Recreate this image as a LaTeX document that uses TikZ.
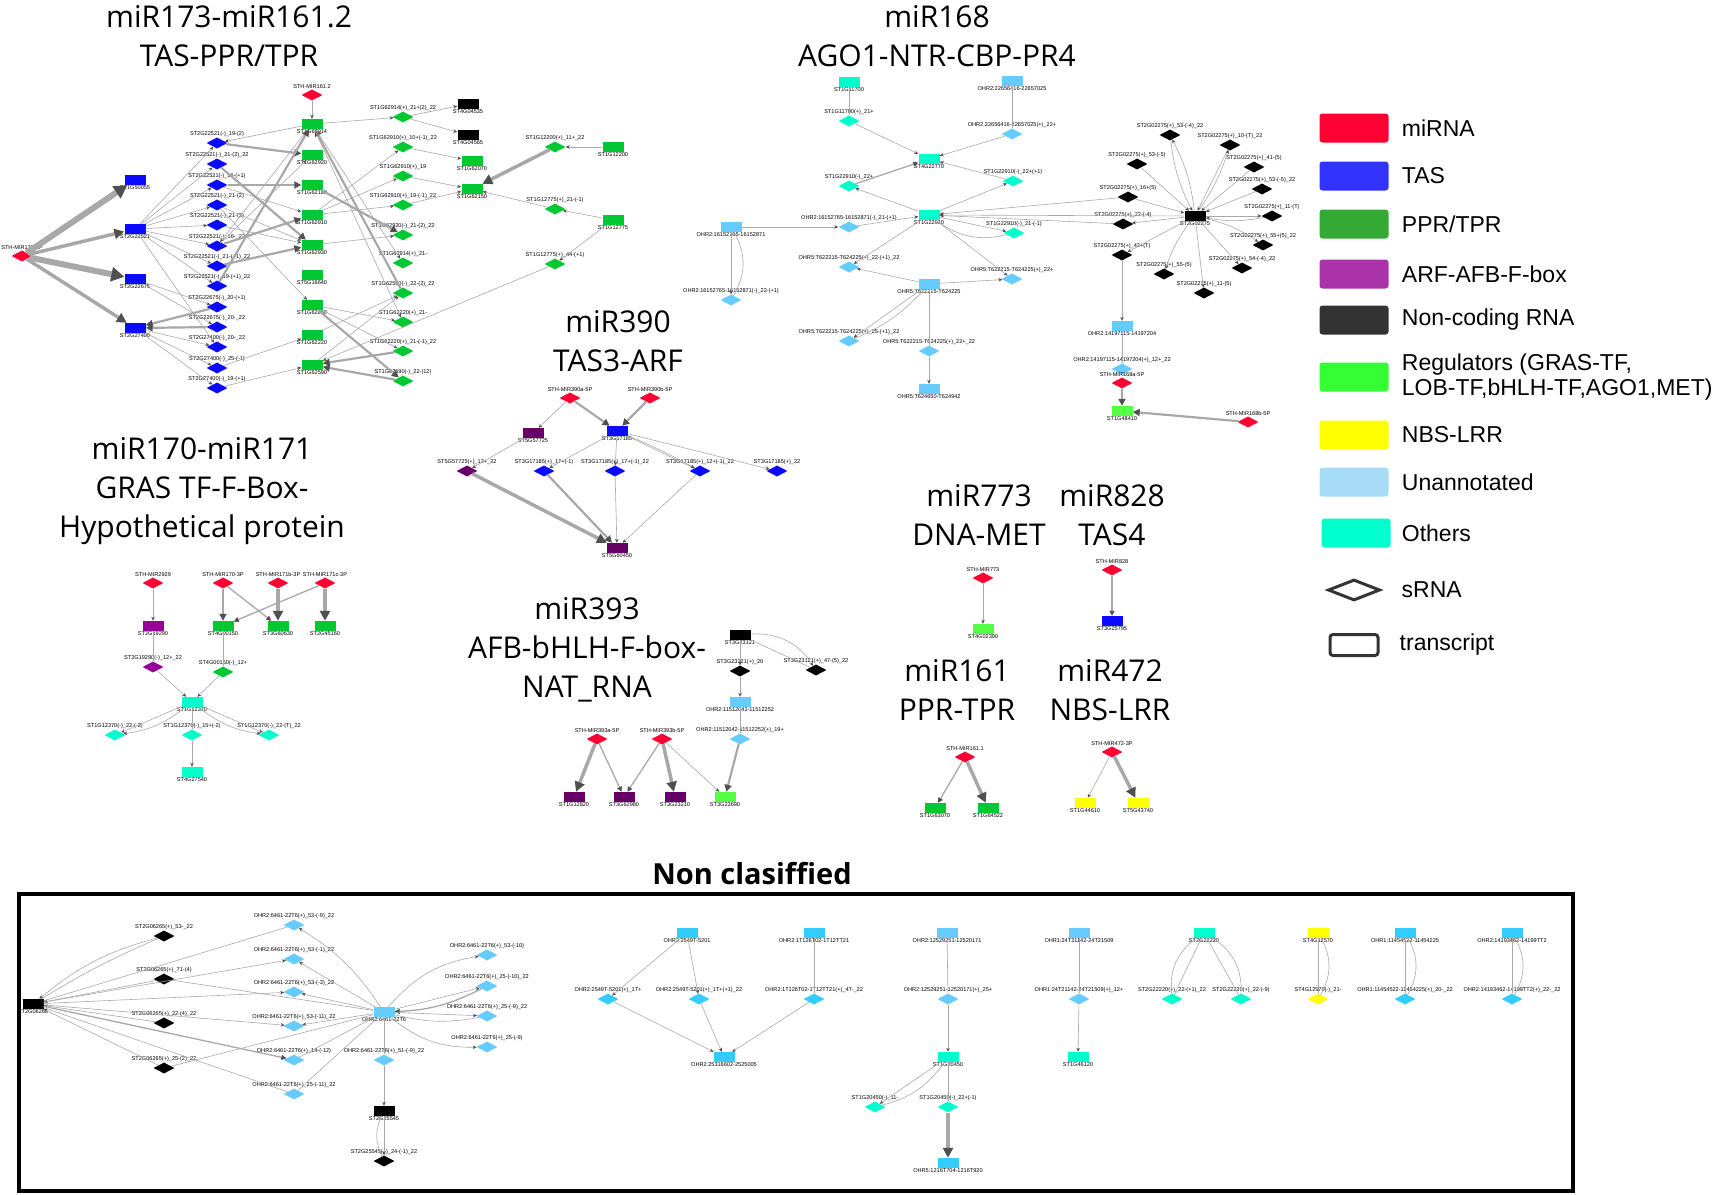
\documentclass[tikz,border=0pt]{standalone}
\usepackage{fontspec}
\setmainfont{Liberation Sans}
\newfontfamily\ttlfont{Open Sans}
\usetikzlibrary{shapes.geometric,arrows.meta,positioning}
\definecolor{cmir}{HTML}{FF0033}
\definecolor{ctas}{HTML}{0A0AFF}
\definecolor{cppr}{HTML}{00C832}
\definecolor{carf}{HTML}{990099}
\definecolor{carfd}{HTML}{660066}
\definecolor{cnc}{HTML}{000000}
\definecolor{creg}{HTML}{55FF44}
\definecolor{cnbs}{HTML}{FFFF00}
\definecolor{cuna}{HTML}{66CCFF}
\definecolor{cunb}{HTML}{33CCFF}
\definecolor{coth}{HTML}{00FFCC}
\definecolor{lmir}{HTML}{FF0033}
\definecolor{ltas}{HTML}{3333FF}
\definecolor{lppr}{HTML}{33AA33}
\definecolor{larf}{HTML}{AA33AA}
\definecolor{lnc}{HTML}{333333}
\definecolor{lreg}{HTML}{33FF33}
\definecolor{lnbs}{HTML}{FFFF00}
\definecolor{luna}{HTML}{A6DCF5}
\definecolor{loth}{HTML}{00FFCC}
\definecolor{egray}{HTML}{A8A8A8}
\definecolor{tgray}{HTML}{505050}
\tikzstyle{tr} = [rectangle, minimum width=21pt, minimum height=10pt, inner sep=0pt]
\tikzstyle{sr} = [diamond, minimum width=21pt, minimum height=11pt, inner sep=0pt]
\tikzstyle{lbl} = [font=\fontsize{5.6}{5.6}\selectfont, inner sep=0.4pt]
\tikzstyle{ttl} = [font=\ttlfont\fontsize{30}{39}\selectfont, align=center, inner sep=0pt]
\tikzstyle{ln} = [draw=egray, line width=0.6pt]
\tikzstyle{lk} = [ln, -{Stealth[length=4pt,width=3.5pt,color=tgray]}]
\tikzstyle{mt} = [draw=egray, line width=1.3pt, -{Triangle[length=5pt,width=5pt,color=tgray]}]
\tikzstyle{md} = [draw=egray, line width=2.2pt, -{Triangle[length=7pt,width=7pt,color=tgray]}]
\tikzstyle{hv} = [draw=egray, line width=3.5pt, -{Triangle[length=10pt,width=10pt,color=tgray]}]
\tikzstyle{hvv} = [draw=egray, line width=6pt, -{Triangle[length=13pt,width=14pt,color=tgray]}]
\tikzstyle{sw} = [rectangle, rounded corners=3pt, minimum width=69pt, minimum height=29pt]
\tikzstyle{lgt} = [font=\fontsize{23}{25}\selectfont, align=left, inner sep=0pt]

\begin{document}
\begin{tikzpicture}[x=1pt, y=-1pt, label distance=0pt]
  \useasboundingbox (0,0) rectangle (1713,1194);

  \node (ttla) [ttl] at (229,36) {miR173-miR161.2\\TAS-PPR/TPR};
  \node (ttlb) [ttl] at (937,36) {miR168\\AGO1-NTR-CBP-PR4};
  \node (ttlc) [ttl] at (618,341) {miR390\\TAS3-ARF};
  \node (ttld) [ttl] at (202,491) {miR170-miR171\\GRAS TF-F-Box-\\Hypothetical protein};
  \node (ttle) [ttl] at (587,650) {miR393\\AFB-bHLH-F-box-\\NAT\_RNA};
  \node (ttlf) [ttl] at (979,515) {miR773\\DNA-MET};
  \node (ttlg) [ttl] at (1112,515) {miR828\\TAS4};
  \node (ttlh) [ttl] at (957,690) {miR161\\PPR-TPR};
  \node (ttli) [ttl] at (1110,690) {miR472\\NBS-LRR};
  \node (ttlj) [ttl, font=\ttlfont\bfseries\fontsize{29}{35}\selectfont] at (752,874) {Non clasiffied};

  \node (m173) [sr, fill=cmir, label={[lbl]above:STH-MIR173-5P}] at (22,256) {};
  \node (m1612) [sr, fill=cmir, label={[lbl]above:STH-MIR161.2}] at (312,95) {};
  \node (t1) [tr, fill=ctas, label={[lbl]below:ST1G50055}] at (135,180) {};
  \node (t2) [tr, fill=ctas, label={[lbl]below:ST2G22521}] at (135,229) {};
  \node (t3) [tr, fill=ctas, label={[lbl]below:ST2G22675}] at (135,279) {};
  \node (t4) [tr, fill=ctas, label={[lbl]below:ST2G27400}] at (135,328) {};
  \node (b1) [sr, fill=ctas, label={[lbl]above:ST2G22521(-)\_19-(2)}] at (217,143) {};
  \node (b2) [sr, fill=ctas, label={[lbl]above:ST2G22521(-)\_21-(2)\_22}] at (217,164) {};
  \node (b3) [sr, fill=ctas, label={[lbl]above:ST2G22521(-)\_16-(+1)}] at (217,185) {};
  \node (b4) [sr, fill=ctas, label={[lbl]above:ST2G22521(-)\_21-(2)}] at (217,205) {};
  \node (b5) [sr, fill=ctas, label={[lbl]above:ST2G22521(-)\_21-(3)}] at (217,225) {};
  \node (b6) [sr, fill=ctas, label={[lbl]above:ST2G22521(-)\_16-\_22}] at (217,246) {};
  \node (b7) [sr, fill=ctas, label={[lbl]above:ST2G22521(-)\_21-(+1)\_22}] at (217,266) {};
  \node (b8) [sr, fill=ctas, label={[lbl]above:ST2G22521(-)\_19-(+1)\_22}] at (217,286) {};
  \node (b9) [sr, fill=ctas, label={[lbl]above:ST2G22675(-)\_20-(+1)}] at (217,307) {};
  \node (b10) [sr, fill=ctas, label={[lbl]above:ST2G22675(-)\_20-\_22}] at (217,327) {};
  \node (b11) [sr, fill=ctas, label={[lbl]above:ST2G27400(-)\_20-\_22}] at (217,347) {};
  \node (b12) [sr, fill=ctas, label={[lbl]above:ST2G27400(-)\_25-(-1)}] at (217,368) {};
  \node (b13) [sr, fill=ctas, label={[lbl]above:ST2G27400(-)\_19-(+1)}] at (217,388) {};
  \node (g1) [tr, fill=cppr, label={[lbl]below:ST1G62914}] at (312,124) {};
  \node (g2) [tr, fill=cppr, label={[lbl]below:ST1G62920}] at (312,155) {};
  \node (g3) [tr, fill=cppr, label={[lbl]below:ST1G62180}] at (312,185) {};
  \node (g4) [tr, fill=cppr, label={[lbl]below:ST1G62910}] at (312,215) {};
  \node (g5) [tr, fill=cppr, label={[lbl]below:ST1G62930}] at (312,245) {};
  \node (g6) [tr, fill=cppr, label={[lbl]below:ST5G16640}] at (312,275) {};
  \node (g7) [tr, fill=cppr, label={[lbl]below:ST1G62860}] at (312,305) {};
  \node (g8) [tr, fill=cppr, label={[lbl]below:ST1G62220}] at (312,335) {};
  \node (g9) [tr, fill=cppr, label={[lbl]below:ST1G62590}] at (312,365) {};
  \node (h1) [sr, fill=cppr, label={[lbl]above:ST1G62914(+)\_21+(2)\_22}] at (403,117) {};
  \node (h2) [sr, fill=cppr, label={[lbl]above:ST1G62910(+)\_10+(-1)\_22}] at (403,147) {};
  \node (h3) [sr, fill=cppr, label={[lbl]above:ST1G62910(+)\_19}] at (403,176) {};
  \node (h4) [sr, fill=cppr, label={[lbl]above:ST1G62910(+)\_19-(-1)\_22}] at (403,205) {};
  \node (h5) [sr, fill=cppr, label={[lbl]above:ST1G62920(-)\_21-(2)\_22}] at (403,235) {};
  \node (h6) [sr, fill=cppr, label={[lbl]above:ST1G62914(+)\_21-}] at (403,263) {};
  \node (h7) [sr, fill=cppr, label={[lbl]above:ST1G62590(-)\_22-(2)\_22}] at (403,293) {};
  \node (h8) [sr, fill=cppr, label={[lbl]above:ST1G62220(+)\_21-}] at (403,322) {};
  \node (h9) [sr, fill=cppr, label={[lbl]above:ST1G62220(+)\_21-(-1)\_22}] at (403,351) {};
  \node (h10) [sr, fill=cppr, label={[lbl]above:ST1G62590(-)\_22-(12)}] at (403,381) {};
  \node (k1) [tr, fill=cnc, label={[lbl]below:ST4G04535}] at (468,104) {};
  \node (k2) [tr, fill=cnc, label={[lbl]below:ST4G04565}] at (468,135) {};
  \node (g10) [tr, fill=cppr, label={[lbl]below:ST1G62070}] at (472,161) {};
  \node (g11) [tr, fill=cppr, label={[lbl]below:ST1G62150}] at (472,189) {};
  \node (h11) [sr, fill=cppr, label={[lbl]above:ST1G12200(+)\_11+\_22}] at (555,147) {};
  \node (g12) [tr, fill=cppr, label={[lbl]below:ST1G12200}] at (613,147) {};
  \node (h12) [sr, fill=cppr, label={[lbl]above:ST1G12775(+)\_21-(-1)}] at (555,209) {};
  \node (g13) [tr, fill=cppr, label={[lbl]below:ST1G12775}] at (613,220) {};
  \node (h13) [sr, fill=cppr, label={[lbl]above:ST1G12775(+)\_44-(+1)}] at (555,264) {};

  \draw[hvv] (m173) -- (t1);
  \draw[hv] (m173) -- (t2);
  \draw[hvv] (m173) -- (t3);
  \draw[hv] (m173) -- (t4);
  \draw[lk] (t2) -- (b1);
  \draw[lk] (t2) -- (b2);
  \draw[lk] (t2) -- (b3);
  \draw[lk] (t2) -- (b4);
  \draw[lk] (t2) -- (b5);
  \draw[lk] (t2) -- (b6);
  \draw[lk] (t2) -- (b7);
  \draw[lk] (t2) -- (b8);
  \draw[lk] (t2) -- (b11);
  \draw[lk] (t3) -- (b9);
  \draw[lk] (t3) -- (b10);
  \draw[md] (b9) -- (t4);
  \draw[md] (b10) -- (t4);
  \draw[lk] (t4) -- (b11);
  \draw[lk] (t4) -- (b12);
  \draw[lk] (t4) -- (b13);
  \draw[md] (b1) -- (g2);
  \draw[md] (b3) -- (g3);
  \draw[md] (b2) -- (g5);
  \draw[lk] (b4) -- (g5);
  \draw[lk] (b5) -- (g5);
  \draw[md] (b7) -- (g5);
  \draw[md] (b6) -- (g4);
  \draw[lk] (b6) -- (g2);
  \draw[lk] (g1) -- (b1);
  \draw[lk] (g1) -- (b6);
  \draw[md] (b8) -- (g1);
  \draw[lk] (b4) -- (g7);
  \draw[lk] (b3) -- (g4);
  \draw[lk] (b12) -- (g8);
  \draw[lk] (b13) -- (g9);
  \draw[lk] (m1612) -- (g1);
  \draw[lk] (g1) -- (h1);
  \draw[lk] (h1) -- (k1);
  \draw[lk] (h1) -- (k2);
  \draw[md] (h7) -- (g1);
  \draw[lk] (g1) -- (h6);
  \draw[lk] (g1) -- (h8);
  \draw[md] (g3) -- (h5);
  \draw[lk] (g4) -- (h2);
  \draw[lk] (g4) -- (h3);
  \draw[lk] (g4) -- (h4);
  \draw[lk] (g5) -- (h5);
  \draw[lk] (h2) -- (g10);
  \draw[lk] (h3) -- (g11);
  \draw[lk] (h4) -- (g11);
  \draw[lk] (g7) -- (h8);
  \draw[lk] (g7) -- (h9);
  \draw[md] (g7) -- (h10);
  \draw[md] (h9) -- (g9);
  \draw[md] (h10) -- (g9);
  \draw[lk] (g8) -- (h7);
  \draw[lk] (g9) -- (h7);
  \draw[hv] (h11) -- (g11);
  \draw[lk] (g12) -- (h11);
  \draw[lk] (g13) -- (h12);
  \draw[lk] (h12) -- (g11);
  \draw[lk] (g13) -- (h13);
  \draw[lk] (h13) -- (g9);

  \node (a1) [tr, fill=coth, label={[lbl]below:ST1G11700}] at (849,82) {};
  \node (a2) [tr, fill=cuna, label={[lbl]below:{OHR2:22656416-22657025}}] at (1012,81) {};
  \node (d1) [sr, fill=coth, label={[lbl]above:ST1G11700(+)\_21+}] at (849,121) {};
  \node (d2) [sr, fill=cuna, label={[lbl]above:{OHR2:22656416-22657025(+)\_22+}}] at (1012,134) {};
  \node (a3) [tr, fill=coth, label={[lbl]below:ST4G22770}] at (929,159) {};
  \node (d3) [sr, fill=coth, label={[lbl]above:ST1G22910(-)\_22+}] at (849,186) {};
  \node (d4) [sr, fill=coth, label={[lbl]above:ST1G22910(-)\_22+(+1)}] at (1013,181) {};
  \node (a4) [tr, fill=coth, label={[lbl]below:ST1G22910}] at (929,215) {};
  \node (a5) [tr, fill=cuna, label={[lbl]below:{OHR2:16152765-16152871}}] at (731,227) {};
  \node (d5) [sr, fill=cuna, label={[lbl]above:{OHR2:16152765-16152871(-)\_21-(+1)}}] at (849,227) {};
  \node (d6) [sr, fill=coth, label={[lbl]above:ST1G22910(-)\_21-(-1)}] at (1014,233) {};
  \node (d7) [sr, fill=cuna, label={[lbl]above:{OHR5:T622215-T624225(+)\_22-(+1)\_22}}] at (849,267) {};
  \node (d8) [sr, fill=cuna, label={[lbl]above:{OHR5:T622215-T624225(+)\_22+}}] at (1012,279) {};
  \node (a6) [tr, fill=cuna, label={[lbl]below:{OHR5:T622215-T624225}}] at (929,284) {};
  \node (d9) [sr, fill=cuna, label={[lbl]above:{OHR2:16152765-16152871(-)\_22-(+1)}}] at (731,300) {};
  \node (d10) [sr, fill=cuna, label={[lbl]above:{OHR5:T622215-T624225(+)\_25-(+1)\_22}}] at (849,341) {};
  \node (d11) [sr, fill=cuna, label={[lbl]above:{OHR5:T622215-T624225(+)\_22+\_22}}] at (929,351) {};
  \node (a7) [tr, fill=cuna, label={[lbl]below:{OHR5:T624650-T624942}}] at (929,389) {};

  \node (hub) [tr, fill=cnc, label={[lbl]below:ST2G02275}] at (1195,216) {};
  \node (q1) [sr, fill=cnc, label={[lbl]above:ST2G02275(+)\_53-(-4)\_22}] at (1170,135) {};
  \node (q2) [sr, fill=cnc, label={[lbl]above:ST2G02275(+)\_10-(T)\_22}] at (1230,145) {};
  \node (q3) [sr, fill=cnc, label={[lbl]above:ST2G02275(+)\_53-(-5)}] at (1137,164) {};
  \node (q4) [sr, fill=cnc, label={[lbl]above:ST2G02275(+)\_41-(5)}] at (1254,167) {};
  \node (q5) [sr, fill=cnc, label={[lbl]above:ST2G02275(+)\_53-(-5)\_22}] at (1262,189) {};
  \node (q6) [sr, fill=cnc, label={[lbl]above:ST2G02275(+)\_16+(5)}] at (1128,197) {};
  \node (q7) [sr, fill=cnc, label={[lbl]above:ST2G02275(+)\_11-(T)}] at (1272,216) {};
  \node (q8) [sr, fill=cnc, label={[lbl]above:ST2G02275(+)\_22-(-4)}] at (1123,224) {};
  \node (q9) [sr, fill=cnc, label={[lbl]above:ST2G02275(+)\_55+(5)\_22}] at (1263,245) {};
  \node (q10) [sr, fill=cnc, label={[lbl]above:ST2G02275(+)\_42+(T)}] at (1122,255) {};
  \node (q11) [sr, fill=cnc, label={[lbl]above:ST2G02275(+)\_54-(-4)\_22}] at (1242,268) {};
  \node (q12) [sr, fill=cnc, label={[lbl]above:ST2G02275(+)\_55-(5)}] at (1164,274) {};
  \node (q13) [sr, fill=cnc, label={[lbl]above:ST2G02275(+)\_11-(5)}] at (1204,293) {};
  \node (u1) [tr, fill=cuna, label={[lbl]below:{OHR2:14197115-14197204}}] at (1122,326) {};
  \node (u2) [sr, fill=cuna, label={[lbl]above:{OHR2:14197115-14197204(+)\_12+\_22}}] at (1122,369) {};
  \node (m168a) [sr, fill=cmir, label={[lbl]above:STH-MIR168a-5P}] at (1122,383) {};
  \node (n1) [tr, fill=creg, label={[lbl]below:ST1G48410}] at (1122,411) {};
  \node (m168b) [sr, fill=cmir, label={[lbl]above:STH-MIR168b-5P}] at (1248,422) {};

  \draw[ln] (a1) -- (d1);
  \draw[lk] (d1) -- (a3);
  \draw[ln] (a2) -- (d2);
  \draw[lk] (d2) -- (a3);
  \draw[mt] (d3) -- (a3);
  \draw[lk] (d4) -- (a3);
  \draw[lk] (a4) -- (d3);
  \draw[lk] (a4) -- (d4);
  \draw[lk] (a5) -- (d5);
  \draw[lk] (d5) -- (a4);
  \draw[lk] (a4) -- (d6);
  \draw[ln] (a4) to[bend right=25] (d6);
  \draw[lk] (a4) -- (d7);
  \draw[lk] (a4) -- (d8);
  \draw[lk] (a6) -- (d7);
  \draw[lk] (a6) -- (d8);
  \draw[lk] (a6) -- (d10);
  \draw[ln] (a6) to[bend left=12] (d10);
  \draw[ln] (a6) -- (d11);
  \draw[lk] (d11) -- (a7);
  \draw[lk] (a5) -- (d9);
  \draw[ln] (a5) to[bend left=30] (d9);
  \draw[lk] (hub) -- (a4);
  \draw[lk] (q6) -- (a4);
  \draw[lk] (q8) -- (a4);
  \draw[lk] (q1) to[bend right=10] (hub);
  \draw[lk] (hub) to[bend right=10] (q1);
  \draw[lk] (q2) -- (hub);
  \draw[lk] (hub) to[bend right=8] (q2);
  \draw[lk] (q3) -- (hub);
  \draw[lk] (q4) -- (hub);
  \draw[lk] (q5) -- (hub);
  \draw[lk] (q6) -- (hub);
  \draw[lk] (hub) -- (q7);
  \draw[lk] (q7) to[bend left=10] (hub);
  \draw[lk] (hub) -- (q8);
  \draw[lk] (hub) to[bend left=10] (q9);
  \draw[lk] (hub) -- (q10);
  \draw[lk] (hub) -- (q11);
  \draw[lk] (hub) to[bend right=10] (q12);
  \draw[lk] (hub) -- (q13);
  \draw[lk] (q10) -- (u1);
  \draw[ln] (u1) -- (u2);
  \draw[md] (m168a) -- (n1);
  \draw[md] (m168b) -- (n1);

  \node (m390a) [sr, fill=cmir, label={[lbl]above:STH-MIR390a-5P}] at (570,398) {};
  \node (m390b) [sr, fill=cmir, label={[lbl]above:STH-MIR390b-5P}] at (650,398) {};
  \node (v1) [tr, fill=carfd, label={[lbl]below:ST5G57725}] at (533,433) {};
  \node (v2) [tr, fill=ctas, label={[lbl]below:ST3G17185}] at (617,431) {};
  \node (vd1) [sr, fill=carfd, label={[lbl]above:ST5G57725(+)\_12+\_22}] at (467,471) {};
  \node (vd2) [sr, fill=ctas, label={[lbl]above:ST3G17185(+)\_17+(-1)}] at (544,471) {};
  \node (vd3) [sr, fill=ctas, label={[lbl]above:ST3G17185(+)\_17+(-1)\_22}] at (615,471) {};
  \node (vd4) [sr, fill=ctas, label={[lbl]above:ST3G17185(+)\_12+(-1)\_22}] at (700,471) {};
  \node (vd5) [sr, fill=ctas, label={[lbl]above:ST3G17185(+)\_22}] at (777,471) {};
  \node (v3) [tr, fill=carfd, label={[lbl]below:ST5G60450}] at (617,548) {};

  \draw[lk] (m390a) -- (v1);
  \draw[md] (m390a) -- (v2);
  \draw[md] (m390b) -- (v2);
  \draw[lk] (v1) -- (vd1);
  \draw[lk] (v2) -- (vd2);
  \draw[lk] (v2) -- (vd3);
  \draw[lk] (v2) -- (vd4);
  \draw[lk] (v2) to[bend left=3] (vd4);
  \draw[lk] (v2) -- (vd5);
  \draw[hv] (vd1) -- (v3);
  \draw[md] (vd2) -- (v3);
  \draw[lk] (vd3) -- (v3);
  \draw[lk] (vd4) -- (v3);

  \node (m2929) [sr, fill=cmir, label={[lbl]above:STH-MIR2929}] at (153,583) {};
  \node (m170) [sr, fill=cmir, label={[lbl]above:STH-MIR170-3P}] at (223,583) {};
  \node (m171b) [sr, fill=cmir, label={[lbl]above:STH-MIR171b-3P}] at (278,583) {};
  \node (m171c) [sr, fill=cmir, label={[lbl]above:STH-MIR171c-3P}] at (325,583) {};
  \node (r19) [tr, fill=carf, label={[lbl]below:ST2G19290}] at (153,626) {};
  \node (r41) [tr, fill=cppr, label={[lbl]below:ST4G00150}] at (223,626) {};
  \node (r36) [tr, fill=cppr, label={[lbl]below:ST3G60630}] at (278,626) {};
  \node (r45) [tr, fill=cppr, label={[lbl]below:ST2G45160}] at (325,626) {};
  \node (rd19) [sr, fill=carf, label={[lbl]above:ST2G19290(-)\_12+\_22}] at (153,667) {};
  \node (rd41) [sr, fill=cppr, label={[lbl]above:ST4G00150(-)\_12+}] at (223,672) {};
  \node (c12) [tr, fill=coth, label={[lbl]below:ST1G12370}] at (192,702) {};
  \node (cd1) [sr, fill=coth, label={[lbl]above:ST1G12370(-)\_22-(-2)}] at (115,735) {};
  \node (cd2) [sr, fill=coth, label={[lbl]above:ST1G12370(-)\_15+(-2)}] at (192,735) {};
  \node (cd3) [sr, fill=coth, label={[lbl]above:ST1G12370(-)\_22-(T)\_22}] at (269,735) {};
  \node (c27) [tr, fill=coth, label={[lbl]below:ST4G27540}] at (192,772) {};

  \draw[lk] (m2929) -- (r19);
  \draw[md] (m170) -- (r41);
  \draw[mt] (m170) -- (r36);
  \draw[hv] (m171b) -- (r36);
  \draw[mt] (m171c) -- (r41);
  \draw[hv] (m171c) -- (r45);
  \draw[ln] (r19) -- (rd19);
  \draw[ln] (r41) -- (rd41);
  \draw[lk] (rd19) -- (c12);
  \draw[lk] (rd41) -- (c12);
  \draw[lk] (c12) -- (cd1);
  \draw[lk] (c12) to[bend left=15] (cd1);
  \draw[ln] (c12) -- (cd2);
  \draw[lk] (c12) -- (cd3);
  \draw[lk] (c12) to[bend right=15] (cd3);
  \draw[lk] (cd2) -- (c27);

  \node (x1) [tr, fill=cnc, label={[lbl]below:ST3G23121}] at (740,635) {};
  \node (xd1) [sr, fill=cnc, label={[lbl]above:ST3G23121(+)\_20}] at (740,671) {};
  \node (xd2) [sr, fill=cnc, label={[lbl]above:ST3G23121(+)\_47-(5)\_22}] at (816,670) {};
  \node (x2) [tr, fill=cuna, label={[lbl]below:{OHR2:11512042-11512252}}] at (740,702) {};
  \node (xd3) [sr, fill=cuna, label={[lbl]above:{OHR2:11512042-11512252(+)\_19+}}] at (740,739) {};
  \node (m393a) [sr, fill=cmir, label={[lbl]above:STH-MIR393a-5P}] at (597,739) {};
  \node (m393b) [sr, fill=cmir, label={[lbl]above:STH-MIR393b-5P}] at (662,739) {};
  \node (y1) [tr, fill=carfd, label={[lbl]below:ST1G12820}] at (574,797) {};
  \node (y2) [tr, fill=carfd, label={[lbl]below:ST3G62980}] at (624,797) {};
  \node (y3) [tr, fill=carfd, label={[lbl]below:ST3G23210}] at (675,797) {};
  \node (y4) [tr, fill=creg, label={[lbl]below:ST3G23690}] at (725,797) {};

  \draw[lk] (x1) -- (xd1);
  \draw[lk] (x1) to[bend left=30] (xd2);
  \draw[ln] (xd2) -- (x1);
  \draw[lk] (xd1) -- (x2);
  \draw[ln] (x2) -- (xd3);
  \draw[hv] (m393a) -- (y1);
  \draw[mt] (m393a) -- (y2);
  \draw[mt] (m393b) -- (y2);
  \draw[hv] (m393b) -- (y3);
  \draw[lk] (m393b) -- (y4);
  \draw[md] (xd3) -- (y4);

  \node (m773) [sr, fill=cmir, label={[lbl]above:STH-MIR773}] at (983,578) {};
  \node (z1) [tr, fill=creg, label={[lbl]below:ST4G02390}] at (983,629) {};
  \node (m828) [sr, fill=cmir, label={[lbl]above:STH-MIR828}] at (1112,570) {};
  \node (z2) [tr, fill=ctas, label={[lbl]below:ST3G25795}] at (1112,621) {};
  \node (m1611) [sr, fill=cmir, label={[lbl]above:STH-MIR161.1}] at (965,757) {};
  \node (z3) [tr, fill=cppr, label={[lbl]below:ST1G63070}] at (935,808) {};
  \node (z4) [tr, fill=cppr, label={[lbl]below:ST1G64522}] at (988,808) {};
  \node (m472) [sr, fill=cmir, label={[lbl]above:STH-MIR472-3P}] at (1112,752) {};
  \node (z5) [tr, fill=cnbs, label={[lbl]below:ST1G44610}] at (1085,803) {};
  \node (z6) [tr, fill=cnbs, label={[lbl]below:ST5G43740}] at (1138,803) {};

  \draw[lk] (m773) -- (z1);
  \draw[mt] (m828) -- (z2);
  \draw[mt] (m1611) -- (z3);
  \draw[hv] (m1611) -- (z4);
  \draw[lk] (m472) -- (z5);
  \draw[hv] (m472) -- (z6);

  \node (swa) [sw, fill=lmir] at (1354,128) {};
  \node (swb) [sw, fill=ltas] at (1354,176) {};
  \node (swc) [sw, fill=lppr] at (1354,224) {};
  \node (swd) [sw, fill=larf] at (1354,274) {};
  \node (swe) [sw, fill=lnc] at (1354,320) {};
  \node (swf) [sw, fill=lreg] at (1354,377) {};
  \node (swg) [sw, fill=lnbs] at (1354,435) {};
  \node (swh) [sw, fill=luna] at (1354,482) {};
  \node (swi) [sw, fill=loth] at (1356,533) {};
  \node (swj) [diamond, draw=lnc, line width=3pt, minimum width=52pt, minimum height=21pt, inner sep=0pt] at (1354,590) {};
  \node (swk) [rectangle, rounded corners=3pt, draw=lnc, line width=3pt, minimum width=48pt, minimum height=21pt] at (1354,645) {};
  \node (lga) [lgt, right=13pt of swa] {miRNA};
  \node (lgb) [lgt, right=13pt of swb] {TAS};
  \node (lgc) [lgt, right=13pt of swc] {PPR/TPR};
  \node (lgd) [lgt, right=13pt of swd] {ARF-AFB-F-box};
  \node (lge) [lgt, right=13pt of swe] {Non-coding RNA};
  \node (lgf) [lgt, right=13pt of swf] {Regulators (GRAS-TF,\\LOB-TF,bHLH-TF,AGO1,MET)};
  \node (lgg) [lgt, right=13pt of swg] {NBS-LRR};
  \node (lgh) [lgt, right=13pt of swh] {Unannotated};
  \node (lgi) [lgt, right=11pt of swi] {Others};
  \node (lgj) [lgt, right=20pt of swj] {sRNA};
  \node (lgk) [lgt, right=20pt of swk] {transcript};

  \draw[line width=4.5pt] (19,894) rectangle (1573,1191);

  \node (nc1) [tr, fill=cnc, label={[lbl]below:ST2G06265}] at (33,1004) {};
  \node (e1) [sr, fill=cnc, label={[lbl]above:ST2G06265(+)\_53-\_22}] at (164,936) {};
  \node (e2) [sr, fill=cnc, label={[lbl]above:ST2G06265(+)\_71-(4)}] at (164,979) {};
  \node (e3) [sr, fill=cnc, label={[lbl]above:ST2G06265(+)\_22-(4)\_22}] at (164,1023) {};
  \node (e4) [sr, fill=cnc, label={[lbl]above:ST2G06265(+)\_25-(2)\_22}] at (164,1068) {};
  \node (f1) [sr, fill=cuna, label={[lbl]above:{OHR2:6461-22T6(+)\_53-(-9)\_22}}] at (294,925) {};
  \node (f2) [sr, fill=cuna, label={[lbl]above:{OHR2:6461-22T6(+)\_53-(-1)\_22}}] at (294,959) {};
  \node (f3) [sr, fill=cuna, label={[lbl]above:{OHR2:6461-22T6(+)\_53-(-3)\_22}}] at (294,992) {};
  \node (f4) [sr, fill=cuna, label={[lbl]above:{OHR2:6461-22T6(+)\_53-(-11)\_22}}] at (294,1026) {};
  \node (f5) [sr, fill=cuna, label={[lbl]above:{OHR2:6461-22T6(+)\_14-(-12)}}] at (294,1060) {};
  \node (f6) [sr, fill=cuna, label={[lbl]above:{OHR2:6461-22T6(+)\_25-(-11)\_22}}] at (294,1094) {};
  \node (nhub) [tr, fill=cuna, label={[lbl]below:{OHR2:6461-22T6}}] at (384,1012) {};
  \node (p1) [sr, fill=cuna, label={[lbl]above:{OHR2:6461-22T6(+)\_53-(-10)}}] at (487,955) {};
  \node (p2) [sr, fill=cuna, label={[lbl]above:{OHR2:6461-22T6(+)\_25-(-10)\_22}}] at (487,986) {};
  \node (p3) [sr, fill=cuna, label={[lbl]above:{OHR2:6461-22T6(+)\_25-(-9)\_22}}] at (487,1016) {};
  \node (p4) [sr, fill=cuna, label={[lbl]above:{OHR2:6461-22T6(+)\_25-(-9)}}] at (487,1047) {};
  \node (p5) [sr, fill=cuna, label={[lbl]above:{OHR2:6461-22T6(+)\_51-(-9)\_22}}] at (384,1060) {};
  \node (nc2) [tr, fill=cnc, label={[lbl]below:ST2G25545}] at (384,1111) {};
  \node (e5) [sr, fill=cnc, label={[lbl]above:ST2G25545(+)\_24-(-1)\_22}] at (384,1161) {};

  \draw[lk] (e1) to[bend right=12] (nc1);
  \draw[ln] (e1) to[bend right=4] (nc1);
  \draw[lk] (e2) -- (nc1);
  \draw[lk] (e3) -- (nc1);
  \draw[lk] (e4) -- (nc1);
  \draw[ln] (nc1) -- (f1);
  \draw[lk] (nc1) -- (f2);
  \draw[lk] (nc1) -- (f3);
  \draw[lk] (nc1) -- (f4);
  \draw[mt] (nc1) -- (f5);
  \draw[ln] (nc1) -- (f6);
  \draw[lk] (nhub) to[bend right=12] (f1);
  \draw[lk] (nhub) -- (f2);
  \draw[lk] (nhub) -- (f3);
  \draw[lk] (nhub) -- (f4);
  \draw[ln] (nhub) -- (f5);
  \draw[ln] (nhub) -- (f6);
  \draw[ln] (nhub) -- (e2);
  \draw[ln] (nhub) -- (e4);
  \draw[lk] (nhub) to[bend left=20] (p1);
  \draw[mt] (p2) to[bend left=12] (nhub);
  \draw[lk] (nhub) -- (p2);
  \draw[lk] (nhub) -- (p3);
  \draw[ln] (nhub) to[bend right=12] (p3);
  \draw[lk] (nhub) to[bend right=20] (p4);
  \draw[ln] (nhub) -- (p5);
  \draw[lk] (p5) -- (nc2);
  \draw[lk] (nc2) -- (e5);
  \draw[ln] (nc2) to[bend right=25] (e5);

  \node (o1) [tr, fill=cunb, label={[lbl]below:{OHR2:2549T-5201}}] at (687,933) {};
  \node (o2) [tr, fill=cunb, label={[lbl]below:{OHR2:1T126T02-1T12TT21}}] at (814,933) {};
  \node (o3) [tr, fill=cuna, label={[lbl]below:{OHR2:12529251-12520171}}] at (947,933) {};
  \node (od1) [sr, fill=cunb, label={[lbl]above:{OHR2:2549T-5201(+)\_1T+}}] at (608,999) {};
  \node (od2) [sr, fill=cunb, label={[lbl]above:{OHR2:2549T-5201(+)\_1T+(+1)\_22}}] at (699,999) {};
  \node (od3) [sr, fill=cunb, label={[lbl]above:{OHR2:1T126T02-1T12TT21(+)\_4T-\_22}}] at (814,999) {};
  \node (od4) [sr, fill=cuna, label={[lbl]above:{OHR2:12529251-12520171(+)\_25+}}] at (948,999) {};
  \node (o4) [tr, fill=cunb, label={[lbl]below:{OHR2:25316602-2525005}}] at (724,1057) {};
  \node (o5) [tr, fill=coth, label={[lbl]below:ST1G20450}] at (948,1057) {};
  \node (od5) [sr, fill=coth, label={[lbl]above:ST1G20450(-)\_11-}] at (875,1107) {};
  \node (od6) [sr, fill=coth, label={[lbl]above:ST1G20450(-)\_22+(-1)}] at (948,1107) {};
  \node (o6) [tr, fill=cunb, label={[lbl]below:{OHR5:1216T704-1216T920}}] at (948,1163) {};
  \node (o7) [tr, fill=cuna, label={[lbl]below:{OHR1:24T21142-24T21509}}] at (1079,933) {};
  \node (od7) [sr, fill=cuna, label={[lbl]above:{OHR1:24T21142-24T21509(+)\_12+}}] at (1079,999) {};
  \node (o8) [tr, fill=coth, label={[lbl]below:ST1G46120}] at (1078,1057) {};
  \node (o9) [tr, fill=coth, label={[lbl]below:ST2G22220}] at (1204,933) {};
  \node (od8) [sr, fill=coth, label={[lbl]above:ST2G22220(+)\_22-(+1)\_22}] at (1172,999) {};
  \node (od9) [sr, fill=coth, label={[lbl]above:ST2G22220(+)\_22-(-9)}] at (1241,999) {};
  \node (o10) [tr, fill=cnbs, label={[lbl]below:ST4G12570}] at (1318,933) {};
  \node (od10) [sr, fill=cnbs, label={[lbl]above:ST4G12570(-)\_21-}] at (1318,999) {};
  \node (o11) [tr, fill=cunb, label={[lbl]below:{OHR1:11454522-11454225}}] at (1405,933) {};
  \node (od11) [sr, fill=cunb, label={[lbl]above:{OHR1:11454522-11454225(+)\_20-\_22}}] at (1405,999) {};
  \node (o12) [tr, fill=cunb, label={[lbl]below:{OHR2:14193462-14199TT2}}] at (1512,933) {};
  \node (od12) [sr, fill=cunb, label={[lbl]above:{OHR2:14193462-14199TT2(+)\_22-\_22}}] at (1512,999) {};

  \draw[lk] (o1) -- (od1);
  \draw[lk] (o1) -- (od2);
  \draw[ln] (o2) -- (od3);
  \draw[lk] (od1) -- (o4);
  \draw[lk] (od2) -- (o4);
  \draw[lk] (od3) -- (o4);
  \draw[ln] (o3) -- (od4);
  \draw[lk] (od4) -- (o5);
  \draw[lk] (o5) -- (od5);
  \draw[ln] (o5) to[bend left=20] (od5);
  \draw[ln] (o5) -- (od6);
  \draw[hv] (od6) -- (o6);
  \draw[ln] (o7) -- (od7);
  \draw[lk] (od7) -- (o8);
  \draw[ln] (o9) -- (od8);
  \draw[ln] (o9) to[bend right=30] (od8);
  \draw[ln] (o9) -- (od9);
  \draw[ln] (o9) to[bend left=30] (od9);
  \draw[ln] (o10) -- (od10);
  \draw[ln] (o10) to[bend left=30] (od10);
  \draw[ln] (o11) -- (od11);
  \draw[ln] (o11) to[bend left=30] (od11);
  \draw[ln] (o12) -- (od12);
  \draw[ln] (o12) to[bend left=30] (od12);
\end{tikzpicture}
\end{document}
